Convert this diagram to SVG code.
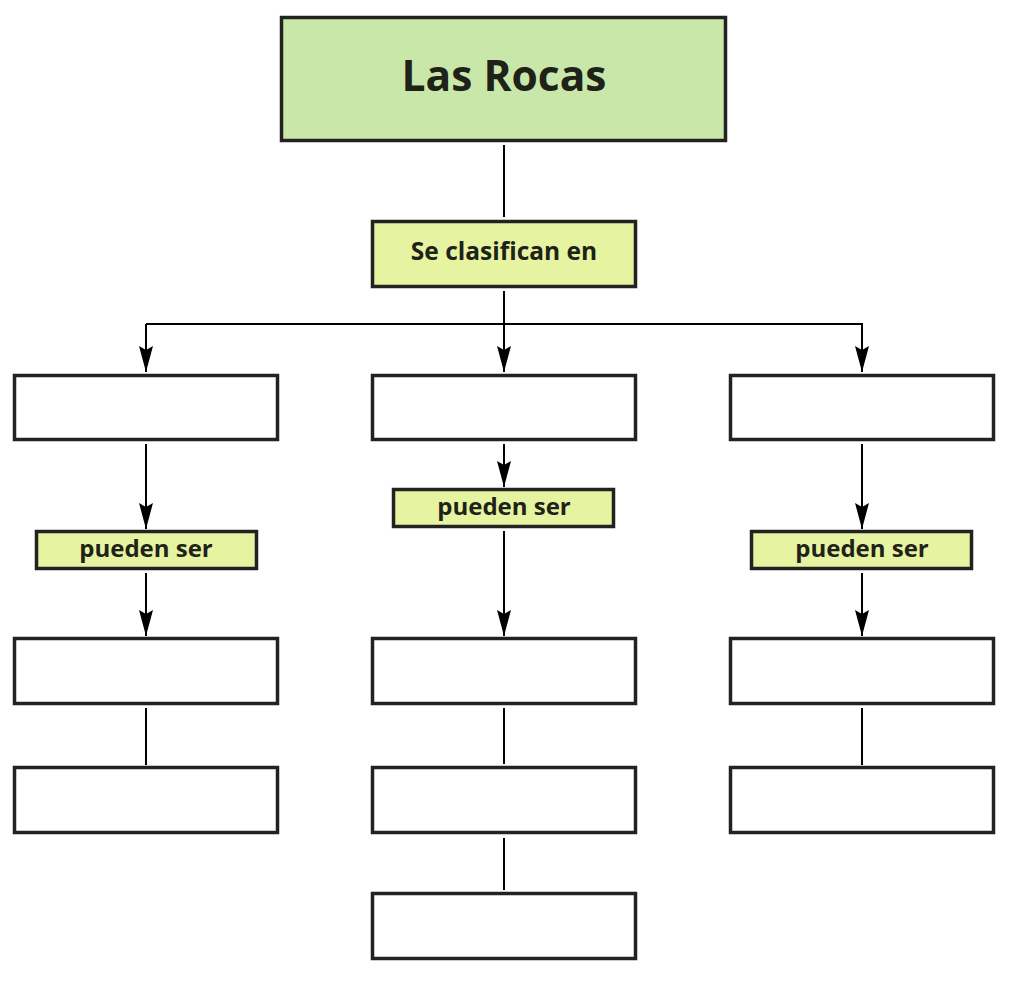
<svg xmlns="http://www.w3.org/2000/svg" width="1015" height="985" viewBox="0 0 1015 985">
<style>
.box{fill:#ffffff;stroke:#222;stroke-width:3.5}
.title{fill:#c8e7a8;stroke:#222;stroke-width:3.5}
.lbl{fill:#e6f3a0;stroke:#222;stroke-width:3.5}
.t{font-family:"Open Sans","Noto Sans",sans-serif;font-weight:bold;fill:#1e2218;text-anchor:middle}
.c{stroke:#000;stroke-width:2;fill:none}
</style>
<defs>
<marker id="arr" markerUnits="userSpaceOnUse" markerWidth="26" markerHeight="16" viewBox="0 0 26 16" refX="26" refY="8" orient="auto">
<path d="M0,1 L4,8 L0,15 L26,8 Z" fill="#000"/>
</marker>
</defs>
<rect width="1015" height="985" fill="#fff"/>
<g id="connectors">
<line class="c" x1="504" y1="145" x2="504" y2="217"/>
<line class="c" x1="504" y1="291" x2="504" y2="372" marker-end="url(#arr)"/>
<polyline class="c" points="146,324 862,324 862,372" marker-end="url(#arr)"/>
<line class="c" x1="146" y1="324" x2="146" y2="372" marker-end="url(#arr)"/>
<line class="c" x1="146" y1="444" x2="146" y2="529" marker-end="url(#arr)"/>
<line class="c" x1="146" y1="573" x2="146" y2="636" marker-end="url(#arr)"/>
<line class="c" x1="146" y1="708" x2="146" y2="765"/>
<line class="c" x1="504" y1="444" x2="504" y2="487" marker-end="url(#arr)"/>
<line class="c" x1="504" y1="531" x2="504" y2="636" marker-end="url(#arr)"/>
<line class="c" x1="504" y1="708" x2="504" y2="764"/>
<line class="c" x1="504" y1="838" x2="504" y2="890"/>
<line class="c" x1="862" y1="444" x2="862" y2="529" marker-end="url(#arr)"/>
<line class="c" x1="862" y1="573" x2="862" y2="636" marker-end="url(#arr)"/>
<line class="c" x1="862" y1="708" x2="862" y2="765"/>
</g>
<g id="las-rocas"><rect class="title" x="281.5" y="17.5" width="444" height="123"/><text class="t" x="504" y="91" font-size="42.5">Las Rocas</text></g>
<g id="se-clasifican"><rect class="lbl" x="372.5" y="221.5" width="263" height="65"/><text class="t" x="504" y="260" font-size="24.5">Se clasifican en</text></g>
<g id="b1"><rect class="box" x="14.5" y="375.5" width="263" height="64"/></g>
<g id="b2"><rect class="box" x="372.5" y="375.5" width="263" height="64"/></g>
<g id="b3"><rect class="box" x="730.5" y="375.5" width="263" height="64"/></g>
<g id="ps1"><rect class="lbl" x="36.5" y="531.5" width="220" height="37"/><text class="t" x="146" y="557" font-size="24">pueden ser</text></g>
<g id="ps2"><rect class="lbl" x="393.5" y="489.5" width="220" height="37"/><text class="t" x="504" y="515" font-size="24">pueden ser</text></g>
<g id="ps3"><rect class="lbl" x="751.5" y="531.5" width="220" height="37"/><text class="t" x="862" y="557" font-size="24">pueden ser</text></g>
<g id="l1"><rect class="box" x="14.5" y="638.5" width="263" height="65"/></g>
<g id="l2"><rect class="box" x="14.5" y="767.5" width="263" height="65"/></g>
<g id="m1"><rect class="box" x="372.5" y="638.5" width="263" height="65"/></g>
<g id="m2"><rect class="box" x="372.5" y="767.5" width="263" height="65"/></g>
<g id="m3"><rect class="box" x="372.5" y="893.5" width="263" height="65"/></g>
<g id="r1"><rect class="box" x="730.5" y="638.5" width="263" height="65"/></g>
<g id="r2"><rect class="box" x="730.5" y="767.5" width="263" height="65"/></g>
</svg>
